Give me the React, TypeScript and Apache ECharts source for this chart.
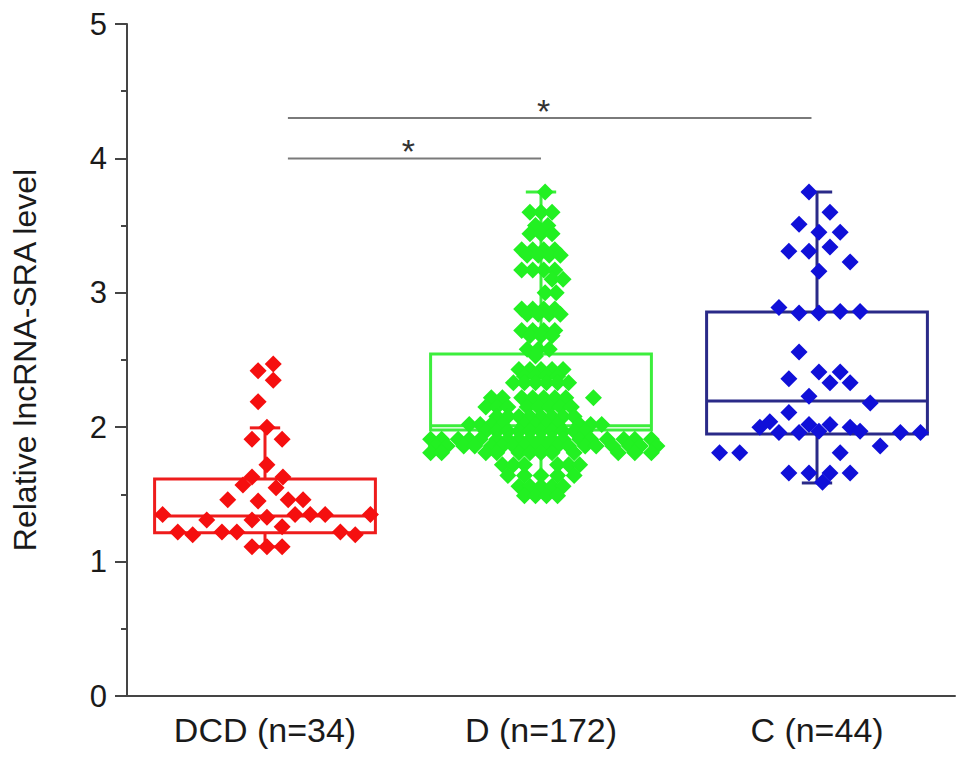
import { useEffect, useRef } from "react";
import * as echarts from "echarts";

const FONT = "'Liberation Sans', Arial, Helvetica, sans-serif";

const categories = ["DCD (n=34)", "D (n=172)", "C (n=44)"];

// [min, q1, median, q3, max] per group
const boxStats: number[][] = [
  [1.11, 1.215, 1.34, 1.615, 1.995],
  [1.49, 1.98, 2.01, 2.545, 3.75],
  [1.585, 1.95, 2.195, 2.857, 3.75],
];

const boxColors = ["#ee1c1c", "#3cee3c", "#2a2a88"];
const pointColors = ["#f50f0f", "#22f022", "#1010d8"];

// [horizontal offset within the group (category units), value]
const dcdPoints: [number, number][] = [
  [-0.025, 2.42], [0.03, 2.47], [0.03, 2.35],
  [-0.025, 2.19],
  [0.007, 2.0],
  [-0.047, 1.91], [0.062, 1.91],
  [0.007, 1.72],
  [-0.08, 1.57], [-0.047, 1.63], [0.04, 1.55], [0.065, 1.63],
  [-0.135, 1.46], [-0.025, 1.45], [0.084, 1.46], [0.138, 1.46],
  [-0.371, 1.35], [-0.211, 1.31], [-0.047, 1.31], [0.007, 1.33],
  [0.109, 1.35], [0.164, 1.35], [0.218, 1.35], [0.382, 1.35],
  [0.062, 1.26],
  [-0.316, 1.22], [-0.262, 1.2], [-0.156, 1.22], [-0.102, 1.22],
  [0.273, 1.22], [0.327, 1.2],
  [-0.047, 1.11], [0.007, 1.11], [0.062, 1.11],
];

const dPoints: [number, number][] = [
  [0.015, 3.75],
  [-0.04, 3.6], [0, 3.6], [0.04, 3.6],
  [-0.02, 3.5], [0.025, 3.5],
  [-0.04, 3.44], [0, 3.44], [0.04, 3.44],
  [-0.07, 3.32], [-0.03, 3.32], [0.01, 3.32], [0.05, 3.32],
  [-0.05, 3.28], [-0.01, 3.28], [0.03, 3.28], [0.07, 3.28],
  [-0.07, 3.17], [-0.03, 3.17], [0.01, 3.17], [0.05, 3.17],
  [0.04, 3.1], [0.08, 3.1],
  [0.015, 3.0], [0.055, 3.0],
  [-0.07, 2.88], [-0.03, 2.88], [0.01, 2.88], [0.05, 2.88],
  [-0.05, 2.84], [-0.01, 2.84], [0.03, 2.84], [0.07, 2.84],
  [-0.07, 2.72], [-0.03, 2.72], [0.01, 2.72], [0.05, 2.72],
  [-0.04, 2.68], [0, 2.68], [0.04, 2.68],
  [-0.05, 2.58], [-0.01, 2.58], [0.03, 2.58],
  [-0.02, 2.53],
  [-0.08, 2.43], [-0.04, 2.43], [0, 2.43], [0.04, 2.43], [0.08, 2.43],
  [-0.06, 2.38], [-0.02, 2.38], [0.02, 2.38], [0.06, 2.38],
  [-0.1, 2.33], [-0.06, 2.33], [-0.02, 2.33], [0.02, 2.33], [0.06, 2.33], [0.1, 2.33],
  [-0.18, 2.22], [-0.14, 2.22], [-0.07, 2.22], [-0.03, 2.22], [0.01, 2.22], [0.05, 2.22], [0.09, 2.22], [0.19, 2.22],
  [-0.2, 2.15], [-0.16, 2.15], [-0.12, 2.15], [-0.05, 2.15], [-0.01, 2.15], [0.03, 2.15], [0.07, 2.15], [0.11, 2.15],
  [-0.16, 2.08], [-0.12, 2.08], [-0.08, 2.08], [-0.04, 2.08], [0, 2.08], [0.04, 2.08], [0.08, 2.08], [0.12, 2.08],
  [-0.26, 2.02], [-0.22, 2.02], [-0.18, 2.02], [-0.14, 2.02], [-0.06, 2.02], [-0.02, 2.02],
  [0.02, 2.02], [0.06, 2.02], [0.14, 2.02], [0.18, 2.02], [0.22, 2.02],
  [-0.2, 1.97], [-0.16, 1.97], [-0.12, 1.97], [-0.08, 1.97], [-0.04, 1.97],
  [0, 1.97], [0.04, 1.97], [0.08, 1.97], [0.12, 1.97], [0.16, 1.97],
  [-0.4, 1.91], [-0.36, 1.91], [-0.3, 1.91], [-0.26, 1.91], [-0.22, 1.91], [-0.16, 1.91],
  [-0.12, 1.91], [-0.08, 1.91], [-0.04, 1.91], [0, 1.91], [0.04, 1.91], [0.08, 1.91],
  [0.14, 1.91], [0.18, 1.91], [0.24, 1.91], [0.3, 1.91], [0.34, 1.91], [0.4, 1.91],
  [-0.38, 1.86], [-0.34, 1.86], [-0.28, 1.86], [-0.24, 1.86], [-0.18, 1.86], [-0.14, 1.86],
  [-0.1, 1.86], [-0.06, 1.86], [-0.02, 1.86], [0.02, 1.86], [0.06, 1.86], [0.1, 1.86],
  [0.16, 1.86], [0.2, 1.86], [0.26, 1.86], [0.32, 1.86], [0.36, 1.86], [0.42, 1.86],
  [-0.4, 1.81], [-0.36, 1.81], [-0.2, 1.81], [-0.16, 1.81], [-0.08, 1.81], [-0.04, 1.81],
  [0, 1.81], [0.04, 1.81], [0.12, 1.81], [0.28, 1.81], [0.34, 1.81], [0.4, 1.81],
  [-0.14, 1.72], [-0.1, 1.72], [-0.06, 1.72], [0.06, 1.72], [0.1, 1.72], [0.14, 1.72],
  [-0.12, 1.64], [-0.06, 1.64], [0, 1.64], [0.06, 1.64], [0.12, 1.64],
  [-0.08, 1.56], [-0.04, 1.56], [0, 1.56], [0.04, 1.56], [0.08, 1.56],
  [-0.06, 1.49], [-0.02, 1.49], [0.02, 1.49], [0.06, 1.49],
];

const cPoints: [number, number][] = [
  [-0.029, 3.75], [0.047, 3.6],
  [-0.065, 3.51], [0.007, 3.45], [0.084, 3.45],
  [-0.102, 3.31], [-0.029, 3.31], [0.047, 3.34],
  [0.12, 3.23], [0.007, 3.16],
  [-0.138, 2.89], [-0.065, 2.85], [0.007, 2.85], [0.084, 2.86], [0.156, 2.86],
  [-0.065, 2.56],
  [0.007, 2.41], [0.084, 2.41], [-0.102, 2.36], [0.047, 2.33], [0.12, 2.33],
  [-0.029, 2.23], [0.193, 2.18], [-0.102, 2.11],
  [-0.207, 2.0], [-0.171, 2.04], [-0.138, 1.96], [-0.065, 1.96], [-0.029, 2.02],
  [0.007, 1.97], [0.047, 2.02], [0.12, 2.0], [0.156, 1.97], [0.302, 1.96], [0.375, 1.96],
  [0.229, 1.86],
  [-0.353, 1.81], [-0.28, 1.81], [0.084, 1.81],
  [-0.102, 1.66], [-0.029, 1.66], [0.047, 1.66], [0.12, 1.66], [0.02, 1.59],
];

const groupPoints = [dcdPoints, dPoints, cPoints];

// significance brackets: [from group, to group, level]
const sigFrom = [0.083, 0.083];
const sigTo = [1.0, 1.98];
const sigLevel = [4.0, 4.3];
const sigLabel = ["*", "*"];

export default function App() {
  const chartRef = useRef<HTMLDivElement>(null);

  useEffect(() => {
    if (!chartRef.current) return;
    const chart = echarts.init(chartRef.current, undefined, { renderer: "svg" });

    const axisColor = "#454545";

    const boxSeries: any = {
      type: "custom",
      xAxisIndex: 1,
      z: 2,
      data: boxStats.map((s, i) => [i, ...s]),
      renderItem: (params: any, api: any) => {
        const i = api.value(0);
        const lo = api.value(1);
        const q1 = api.value(2);
        const med = api.value(3);
        const q3 = api.value(4);
        const hi = api.value(5);
        const color = boxColors[params.dataIndex];
        const half = 0.4;
        const cap = 0.055;
        const tl = api.coord([i - half, q3]);
        const br = api.coord([i + half, q1]);
        const line = (a: number[], b: number[]) => ({
          type: "line",
          shape: { x1: a[0], y1: a[1], x2: b[0], y2: b[1] },
          style: { stroke: color, lineWidth: 3 },
        });
        return {
          type: "group",
          children: [
            {
              type: "rect",
              shape: { x: tl[0], y: tl[1], width: br[0] - tl[0], height: br[1] - tl[1] },
              style: { fill: "none", stroke: color, lineWidth: 3 },
            },
            line(api.coord([i - half, med]), api.coord([i + half, med])),
            line(api.coord([i, q3]), api.coord([i, hi])),
            line(api.coord([i, q1]), api.coord([i, lo])),
            line(api.coord([i - cap, hi]), api.coord([i + cap, hi])),
            line(api.coord([i - cap, lo]), api.coord([i + cap, lo])),
          ],
        };
      },
    };

    const sigSeries: any = {
      type: "custom",
      xAxisIndex: 1,
      z: 4,
      data: sigFrom.map((f, i) => [f, sigTo[i], sigLevel[i]]),
      renderItem: (params: any, api: any) => {
        const a = api.coord([api.value(0), api.value(2)]);
        const b = api.coord([api.value(1), api.value(2)]);
        return {
          type: "group",
          children: [
            {
              type: "line",
              shape: { x1: a[0], y1: a[1], x2: b[0], y2: b[1] },
              style: { stroke: "#7a7a7a", lineWidth: 2 },
            },
            {
              type: "text",
              x: (a[0] + b[0]) / 2 - 6,
              y: a[1] - 7,
              style: {
                text: sigLabel[params.dataIndex],
                fontSize: 34,
                fontFamily: FONT,
                fill: "#333",
                align: "center",
                verticalAlign: "middle",
              },
            },
          ],
        };
      },
    };

    const scatterSeries: any[] = groupPoints.map((pts, g) => ({
      type: "scatter",
      xAxisIndex: 1,
      z: 3,
      symbol: "diamond",
      symbolSize: 17,
      itemStyle: { color: pointColors[g], opacity: 1 },
      data: pts.map(([off, v]) => [g + off, v]),
    }));

    const option: any = {
      animation: false,
      backgroundColor: "#ffffff",
      grid: { left: 127, right: 14, top: 24, bottom: 70 },
      xAxis: [
        {
          type: "category",
          data: categories,
          boundaryGap: true,
          axisLine: { onZero: false, lineStyle: { color: axisColor, width: 2 } },
          axisTick: { alignWithLabel: true, length: 12, lineStyle: { color: axisColor, width: 2 } },
          axisLabel: { fontSize: 34, color: "#1a1a1a", fontFamily: FONT, margin: 17 },
          splitLine: { show: false },
        },
        {
          type: "value",
          min: -0.5,
          max: 2.5,
          show: false,
          splitLine: { show: false },
        },
      ],
      yAxis: {
        type: "value",
        min: 0,
        max: 5,
        interval: 1,
        name: "Relative lncRNA-SRA level",
        nameLocation: "middle",
        nameGap: 86,
        nameTextStyle: { fontSize: 32, color: "#1a1a1a", fontFamily: FONT },
        axisLine: { show: true, onZero: false, lineStyle: { color: axisColor, width: 2 } },
        axisTick: { show: true, length: 12, lineStyle: { color: axisColor, width: 2 } },
        minorTick: { show: true, splitNumber: 2, length: 6, lineStyle: { color: axisColor, width: 2 } },
        axisLabel: { fontSize: 31, color: "#1a1a1a", fontFamily: FONT, margin: 20 },
        splitLine: { show: false },
        minorSplitLine: { show: false },
      },
      series: [boxSeries, ...scatterSeries, sigSeries],
    };

    chart.setOption(option);

    return () => {
      chart.dispose();
    };
  }, []);

  return (
    <div
      ref={chartRef}
      style={{ position: "fixed", left: 0, top: 0, width: 969, height: 766 }}
    />
  );
}
